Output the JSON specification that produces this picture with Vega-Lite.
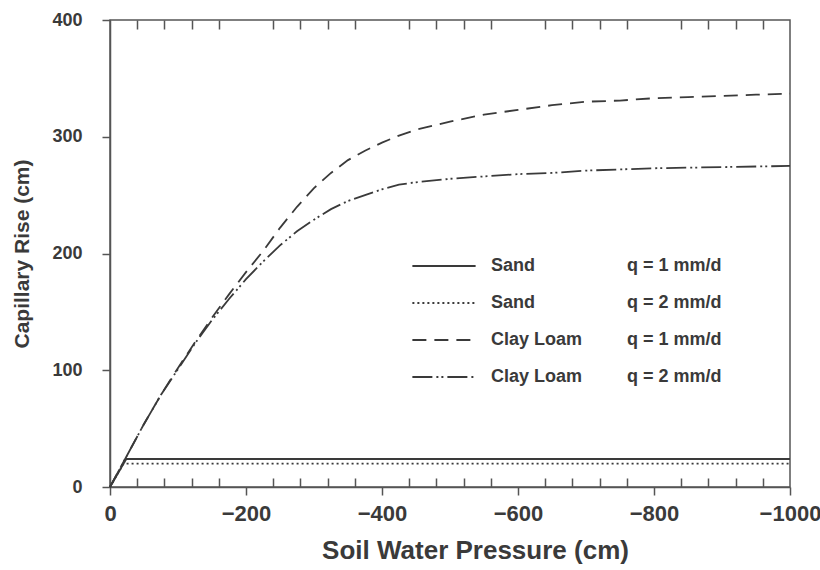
{
  "$schema": "https://vega.github.io/schema/vega-lite/v6.json",
  "width": 680,
  "height": 467,
  "autosize": {"type": "none"},
  "padding": {"left": 110, "top": 20, "right": 30, "bottom": 83},
  "background": "white",
  "config": {
    "font": "Liberation Sans",
    "view": {"stroke": "#555", "strokeWidth": 1.5},
    "axis": {"domainColor": "#555", "domainWidth": 1.5, "tickColor": "#555", "tickWidth": 1.5, "labelColor": "#3a3a3a", "titleColor": "#3a3a3a"}
  },
  "data": {
    "values": [
      {"p": 0, "r": 0, "s": "Sand, q = 1 mm/d"},
      {"p": -24, "r": 24, "s": "Sand, q = 1 mm/d"},
      {"p": -1000, "r": 24, "s": "Sand, q = 1 mm/d"},
      {"p": 0, "r": 0, "s": "Sand, q = 2 mm/d"},
      {"p": -20, "r": 20, "s": "Sand, q = 2 mm/d"},
      {"p": -1000, "r": 20, "s": "Sand, q = 2 mm/d"},
      {"p": 0, "r": 0, "s": "Clay Loam, q = 1 mm/d"},
      {"p": -25, "r": 27, "s": "Clay Loam, q = 1 mm/d"},
      {"p": -50, "r": 54, "s": "Clay Loam, q = 1 mm/d"},
      {"p": -75, "r": 79, "s": "Clay Loam, q = 1 mm/d"},
      {"p": -100, "r": 102, "s": "Clay Loam, q = 1 mm/d"},
      {"p": -125, "r": 124, "s": "Clay Loam, q = 1 mm/d"},
      {"p": -150, "r": 145, "s": "Clay Loam, q = 1 mm/d"},
      {"p": -175, "r": 165, "s": "Clay Loam, q = 1 mm/d"},
      {"p": -200, "r": 184, "s": "Clay Loam, q = 1 mm/d"},
      {"p": -225, "r": 202, "s": "Clay Loam, q = 1 mm/d"},
      {"p": -250, "r": 222, "s": "Clay Loam, q = 1 mm/d"},
      {"p": -275, "r": 240, "s": "Clay Loam, q = 1 mm/d"},
      {"p": -300, "r": 256, "s": "Clay Loam, q = 1 mm/d"},
      {"p": -325, "r": 269, "s": "Clay Loam, q = 1 mm/d"},
      {"p": -350, "r": 280, "s": "Clay Loam, q = 1 mm/d"},
      {"p": -375, "r": 288, "s": "Clay Loam, q = 1 mm/d"},
      {"p": -400, "r": 295, "s": "Clay Loam, q = 1 mm/d"},
      {"p": -425, "r": 301, "s": "Clay Loam, q = 1 mm/d"},
      {"p": -450, "r": 306, "s": "Clay Loam, q = 1 mm/d"},
      {"p": -500, "r": 313, "s": "Clay Loam, q = 1 mm/d"},
      {"p": -550, "r": 319, "s": "Clay Loam, q = 1 mm/d"},
      {"p": -600, "r": 323, "s": "Clay Loam, q = 1 mm/d"},
      {"p": -650, "r": 327, "s": "Clay Loam, q = 1 mm/d"},
      {"p": -700, "r": 330, "s": "Clay Loam, q = 1 mm/d"},
      {"p": -750, "r": 331, "s": "Clay Loam, q = 1 mm/d"},
      {"p": -800, "r": 333, "s": "Clay Loam, q = 1 mm/d"},
      {"p": -850, "r": 334, "s": "Clay Loam, q = 1 mm/d"},
      {"p": -900, "r": 335, "s": "Clay Loam, q = 1 mm/d"},
      {"p": -950, "r": 336, "s": "Clay Loam, q = 1 mm/d"},
      {"p": -1000, "r": 337, "s": "Clay Loam, q = 1 mm/d"},
      {"p": 0, "r": 0, "s": "Clay Loam, q = 2 mm/d"},
      {"p": -25, "r": 27, "s": "Clay Loam, q = 2 mm/d"},
      {"p": -50, "r": 54, "s": "Clay Loam, q = 2 mm/d"},
      {"p": -75, "r": 79, "s": "Clay Loam, q = 2 mm/d"},
      {"p": -100, "r": 101, "s": "Clay Loam, q = 2 mm/d"},
      {"p": -125, "r": 123, "s": "Clay Loam, q = 2 mm/d"},
      {"p": -150, "r": 143, "s": "Clay Loam, q = 2 mm/d"},
      {"p": -175, "r": 161, "s": "Clay Loam, q = 2 mm/d"},
      {"p": -200, "r": 178, "s": "Clay Loam, q = 2 mm/d"},
      {"p": -225, "r": 193, "s": "Clay Loam, q = 2 mm/d"},
      {"p": -250, "r": 207, "s": "Clay Loam, q = 2 mm/d"},
      {"p": -275, "r": 219, "s": "Clay Loam, q = 2 mm/d"},
      {"p": -300, "r": 229, "s": "Clay Loam, q = 2 mm/d"},
      {"p": -325, "r": 238, "s": "Clay Loam, q = 2 mm/d"},
      {"p": -350, "r": 245, "s": "Clay Loam, q = 2 mm/d"},
      {"p": -375, "r": 250, "s": "Clay Loam, q = 2 mm/d"},
      {"p": -400, "r": 255, "s": "Clay Loam, q = 2 mm/d"},
      {"p": -425, "r": 259, "s": "Clay Loam, q = 2 mm/d"},
      {"p": -450, "r": 261, "s": "Clay Loam, q = 2 mm/d"},
      {"p": -500, "r": 264, "s": "Clay Loam, q = 2 mm/d"},
      {"p": -550, "r": 266, "s": "Clay Loam, q = 2 mm/d"},
      {"p": -600, "r": 268, "s": "Clay Loam, q = 2 mm/d"},
      {"p": -650, "r": 269, "s": "Clay Loam, q = 2 mm/d"},
      {"p": -700, "r": 271, "s": "Clay Loam, q = 2 mm/d"},
      {"p": -800, "r": 273, "s": "Clay Loam, q = 2 mm/d"},
      {"p": -900, "r": 274, "s": "Clay Loam, q = 2 mm/d"},
      {"p": -1000, "r": 275, "s": "Clay Loam, q = 2 mm/d"}
    ]
  },
  "mark": {"type": "line", "strokeWidth": 1.8},
  "encoding": {
    "x": {
      "field": "p", "type": "quantitative",
      "scale": {"domain": [0, -1000], "nice": false, "zero": false},
      "axis": {
        "orient": "bottom",
        "values": [0, -40, -80, -120, -160, -200, -240, -280, -320, -360, -400, -440, -480, -520, -560, -600, -640, -680, -720, -760, -800, -840, -880, -920, -960, -1000],
        "format": "d",
        "labelExpr": "datum.value % 200 === 0 ? datum.label : ''",
        "labelOverlap": false,
        "tickSize": 8,
        "tickOpacity": {"condition": {"test": "datum.value % 200 !== 0", "value": 0}, "value": 1},
        "grid": true,
        "gridColor": "#555",
        "gridWidth": 1.5,
        "gridDash": [9, 449, 9, 1000],
        "gridOpacity": {"condition": {"test": "datum.value % 200 === 0", "value": 0}, "value": 1},
        "labelFontSize": 22,
        "labelFontWeight": "bold",
        "labelPadding": 8,
        "labelFlush": false,
        "title": "Soil Water Pressure (cm)",
        "titleFontSize": 26,
        "titleFontWeight": "bold",
        "titlePadding": 13,
        "titleX": 365
      }
    },
    "y": {
      "field": "r", "type": "quantitative",
      "scale": {"domain": [0, 400], "nice": false},
      "axis": {
        "values": [0, 100, 200, 300, 400],
        "grid": false,
        "tickSize": 8,
        "labelFontSize": 18,
        "labelFontWeight": "bold",
        "labelPadding": 20,
        "labelFlush": false,
        "title": "Capillary Rise (cm)",
        "titleFontSize": 21,
        "titleFontWeight": "bold",
        "titlePadding": 19
      }
    },
    "strokeDash": {
      "field": "s", "type": "nominal",
      "scale": {
        "domain": ["Sand, q = 1 mm/d", "Sand, q = 2 mm/d", "Clay Loam, q = 1 mm/d", "Clay Loam, q = 2 mm/d"],
        "range": [[1, 0], [2, 3], [14, 8], [20, 4, 2, 3, 2, 4]]
      },
      "legend": {
        "orient": "none",
        "legendX": 301,
        "legendY": 236,
        "title": null,
        "padding": 0,
        "clipHeight": 20,
        "symbolType": "stroke",
        "symbolSize": 4000,
        "symbolStrokeWidth": 2,
        "symbolStrokeColor": "#3a3a3a",
        "labelExpr": "split(datum.label, ', ')[0]",
        "labelFontSize": 18,
        "labelFontWeight": "bold",
        "labelColor": "#3a3a3a",
        "labelOffset": 14,
        "rowPadding": 17
      }
    },
    "color": {
      "field": "s", "type": "nominal", "sort": null,
      "scale": {"range": ["#3a3a3a", "#3a3a3a", "#3a3a3a", "#3a3a3a"]},
      "legend": {
        "orient": "none",
        "legendX": 437,
        "legendY": 236,
        "title": null,
        "padding": 0,
        "clipHeight": 20,
        "symbolType": "stroke",
        "symbolSize": 4000,
        "symbolStrokeWidth": 2,
        "symbolOpacity": 0,
        "labelExpr": "split(datum.label, ', ')[1]",
        "labelFontSize": 18,
        "labelFontWeight": "bold",
        "labelColor": "#3a3a3a",
        "labelOffset": 14,
        "rowPadding": 17
      }
    }
  }
}
